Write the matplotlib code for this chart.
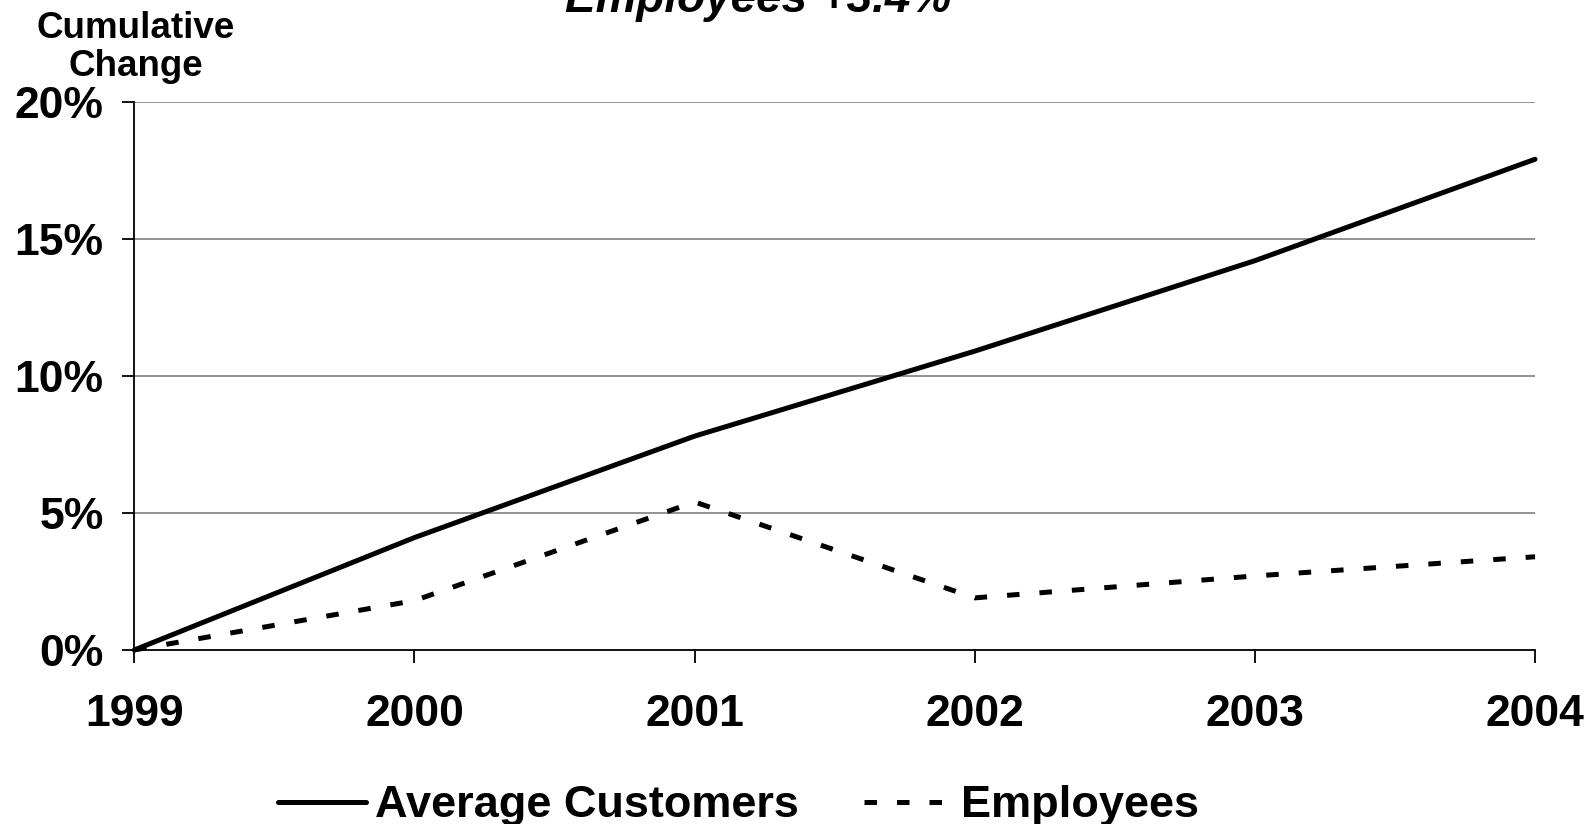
import matplotlib
matplotlib.use("Agg")
import matplotlib.pyplot as plt
from matplotlib.ticker import FuncFormatter

plt.rcParams['font.family'] = ['Liberation Sans', 'DejaVu Sans']
plt.rcParams['font.weight'] = 'bold'

years = [1999, 2000, 2001, 2002, 2003, 2004]
average_customers = [0.0, 4.1, 7.8, 10.9, 14.2, 17.9]
employees = [0.0, 1.8, 5.4, 1.9, 2.7, 3.4]
y_ticks = [0, 5, 10, 15, 20]
title_text = "Employees +3.4%"
y_label = "Cumulative\nChange"

fig = plt.figure(figsize=(15.95, 8.24), dpi=100)
ax = fig.add_axes([0.0842, 0.2112, 0.8782, 0.6654])

ax.set_xlim(years[0], years[-1])
ax.set_ylim(0, 20)

for y in y_ticks[1:]:
    ax.axhline(y, color='#8a8a8a', lw=1.3, zorder=1)

ax.plot(years, average_customers, color='black', lw=3.6, solid_capstyle='round',
        clip_on=False, zorder=3, label='Average Customers')
ax.plot(years, employees, color='black', lw=3.6, dashes=(2.5, 4.0), dash_capstyle='butt',
        clip_on=False, zorder=3, label='Employees')

ax.set_xticks(years)
ax.set_xticklabels([str(y) for y in years])
ax.set_yticks(y_ticks)
ax.yaxis.set_major_formatter(FuncFormatter(lambda v, p: f"{int(v)}%"))

for side in ['top', 'right']:
    ax.spines[side].set_visible(False)
for side in ['left', 'bottom']:
    ax.spines[side].set_linewidth(1.3)
    ax.spines[side].set_color('black')

ax.tick_params(axis='y', direction='out', length=9, width=1.3, pad=13, labelsize=32)
ax.tick_params(axis='x', direction='out', length=9, width=1.3, pad=23, labelsize=32)
for lbl in ax.get_xticklabels() + ax.get_yticklabels():
    lbl.set_fontweight('bold')

fig.text(0.085, 0.987, y_label, ha='center', va='top', fontsize=26.5,
         fontweight='bold', linespacing=1.13)

fig.text(0.475, 0.9854, title_text, ha='center', va='baseline', fontsize=33,
         fontweight='bold', fontstyle='italic')

leg = fig.legend(loc='center', bbox_to_anchor=(0.463, 0.022), ncol=2, frameon=False,
                 fontsize=32.5, handlelength=1.95, handletextpad=0.2, columnspacing=1.45,
                 borderaxespad=0)
for t in leg.get_texts():
    t.set_fontweight('bold')

fig.savefig("out.png", dpi=100)
